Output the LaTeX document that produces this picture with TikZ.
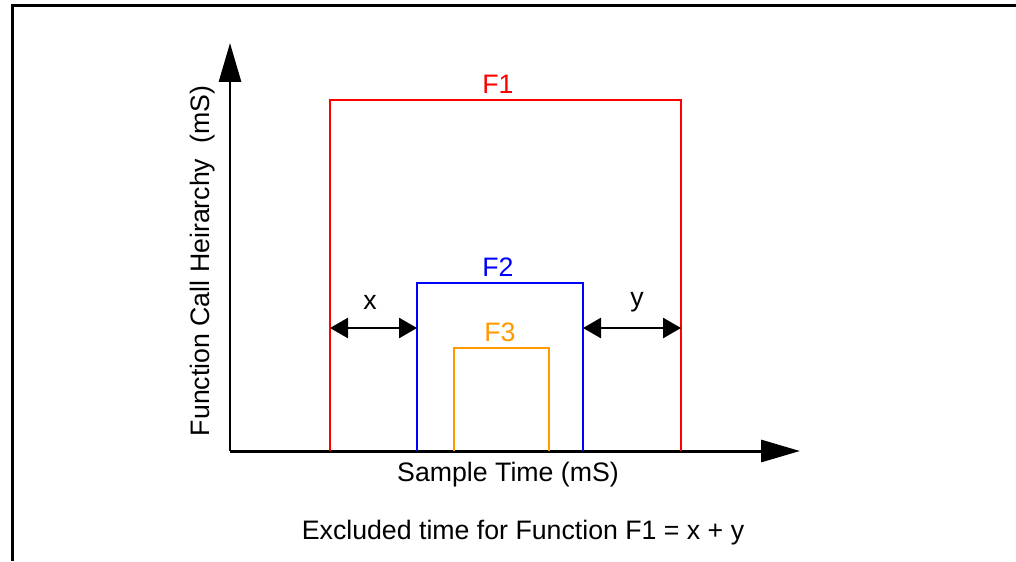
\documentclass[tikz,border=0pt]{standalone}
\usepackage{fontspec}
\setmainfont{Liberation Sans}
\usetikzlibrary{arrows.meta, positioning}
\definecolor{fthree}{RGB}{255,153,0}

\begin{document}
\begin{tikzpicture}[
    x=0.02cm, y=-0.02cm,
    axis/.style={line width=1.7pt, -{Triangle[length=0.78cm, width=0.44cm]}},
    gap/.style={line width=1.6pt, {Triangle[length=0.36cm, width=0.4cm]}-{Triangle[length=0.36cm, width=0.4cm]}},
    call/.style={line width=1.4pt},
    lbl/.style={font=\fontsize{15.2}{18}\selectfont, inner sep=1pt}
]
\useasboundingbox (0,0) rectangle (1016,561);

% Frame
\draw[line width=1.7pt] (12.5,561) -- (12.5,5.5) -- (1016,5.5);

% Axes
\coordinate (origin) at (230,451);
\coordinate (ytip) at (230,43);
\coordinate (xtip) at (800,451);
\draw[axis] (origin) -- (ytip);
\draw[axis] (origin) -- (xtip);

% Function calls
\draw[call, red] (330,451) |- (681,100) -- (681,451);
\draw[call, blue] (417,451) |- (583,283) -- (583,451);
\draw[call, fthree] (454,451) |- (549,348) -- (549,451);
\node[lbl, red] (f1) at (498,84) {F1};
\node[lbl, blue] (f2) at (498,267) {F2};
\node[lbl, fthree] (f3) at (500,332) {F3};

% Excluded time
\coordinate (xleft) at (330,328);
\coordinate (xright) at (417,328);
\coordinate (yleft) at (583,328);
\coordinate (yright) at (681,328);
\draw[gap] (xleft) -- (xright);
\draw[gap] (yleft) -- (yright);
\node[lbl] (xgap) at (370,302) {x};
\node[lbl] (ygap) at (637,302) {y};

% Axis labels
\node[lbl, rotate=90] (ylabel) at (203,261) {Function Call Heirarchy\ \ (mS)};
\node[lbl] (xlabel) at (508,475) {Sample Time (mS)};
\node[lbl] (note) at (523,533) {Excluded time for Function F1 = x + y};

\end{tikzpicture}
\end{document}
